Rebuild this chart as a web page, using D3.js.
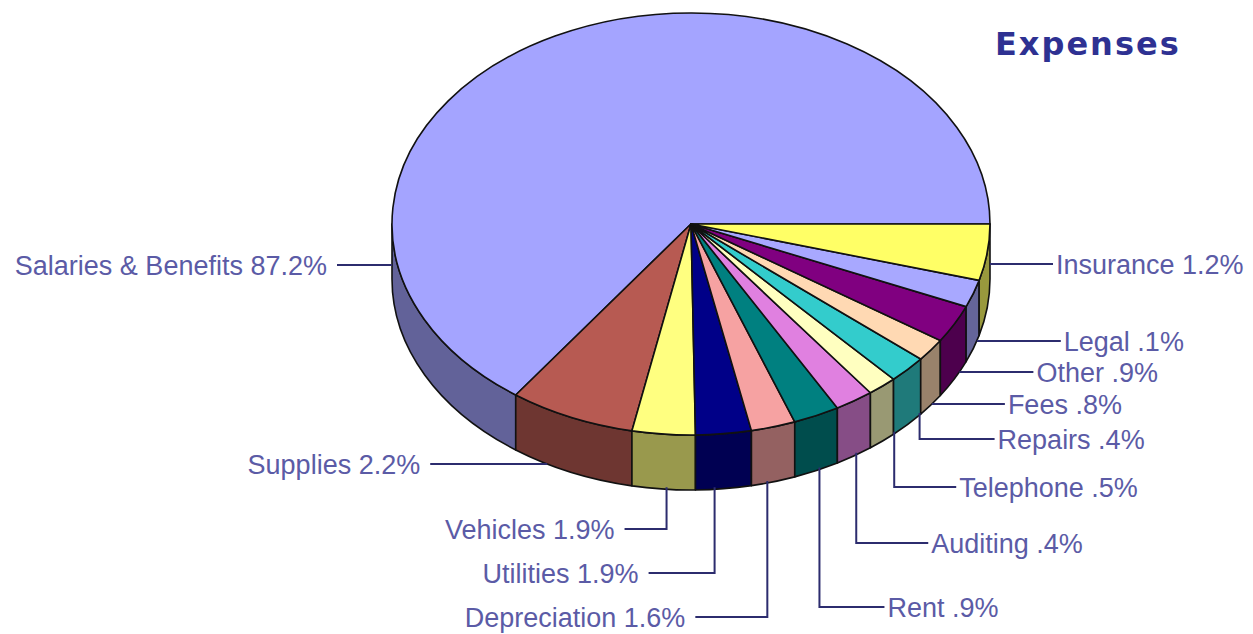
<!DOCTYPE html>
<html>
<head>
<meta charset="utf-8">
<script src="https://cdn.jsdelivr.net/npm/d3@7"></script>
<style>
  body { margin: 0; background: #fff; }
</style>
</head>
<body>
<div id="chart"></div>
<script>
const categories = ["Salaries & Benefits", "Supplies", "Vehicles", "Utilities", "Depreciation", "Rent",
  "Auditing", "Telephone", "Repairs", "Fees", "Other", "Legal", "Insurance"];
const percentLabels = ["87.2%", "2.2%", "1.9%", "1.9%", "1.6%", ".9%", ".4%", ".5%", ".4%", ".8%", ".9%", ".1%", "1.2%"];
// share of the circle each slice takes in the drawing itself (the picture does not follow the labels)
const drawnShares = [65.0, 6.8, 3.4, 3.0, 2.4, 2.5, 2.1, 1.6, 2.1, 1.75, 2.9, 2.1, 4.3];
const topColors = ["#a4a4ff", "#b75a52", "#ffff80", "#000088", "#f6a2a2", "#008080",
  "#e080e0", "#ffffc0", "#33cccc", "#ffd9b3", "#800080", "#a8a8ff", "#ffff66"];

const W = 1253, H = 634;
const cx = 691, cy = 224, rx = 299, ry = 211, depth = 55;

// label layout: leader type, side, y of the horizontal run, its length, nudge of the drop line
const labelLayout = [
  { kind: "h", dir: -1, lineY: 265, len: 55 },
  { kind: "h", dir: -1, lineY: 464, len: 117 },
  { kind: "v", dir: -1, lineY: 529, len: 42, nudge: 3 },
  { kind: "v", dir: -1, lineY: 573, len: 66, nudge: -9 },
  { kind: "v", dir: -1, lineY: 617, len: 72, nudge: -6 },
  { kind: "v", dir: 1, lineY: 607, len: 65, nudge: 3 },
  { kind: "v", dir: 1, lineY: 543, len: 72, nudge: 2 },
  { kind: "v", dir: 1, lineY: 487, len: 62, nudge: 12 },
  { kind: "v", dir: 1, lineY: 439, len: 75, nudge: 12 },
  { kind: "h", dir: 1, lineY: 404, len: 73 },
  { kind: "h", dir: 1, lineY: 372, len: 74 },
  { kind: "h", dir: 1, lineY: 341, len: 84 },
  { kind: "h", dir: 1, lineY: 264, len: 63 }
];

const data = categories.map((c, i) => ({
  name: c, label: percentLabels[i], share: drawnShares[i], color: topColors[i], layout: labelLayout[i]
}));

const svg = d3.select("#chart").append("svg")
  .attr("width", W).attr("height", H)
  .style("font-family", "'Liberation Sans', Arial, sans-serif");

// slices counterclockwise from 3 o'clock, Salaries first
const pie = d3.pie().sort(null).value(d => d.share).startAngle(0).endAngle(-2 * Math.PI);
const arcs = pie(data).map(a => {
  let t0 = Math.min(a.startAngle, a.endAngle) + 2 * Math.PI;
  let t1 = Math.max(a.startAngle, a.endAngle) + 2 * Math.PI;
  if (t0 >= 2 * Math.PI - 1e-9) { t0 -= 2 * Math.PI; t1 -= 2 * Math.PI; }
  return { d: a.data, t0, t1 };
});

const px = t => cx + rx * Math.cos(t);
const py = t => cy + ry * Math.sin(t);

function topPath(t0, t1) {
  const large = (t1 - t0) > Math.PI ? 1 : 0;
  return `M${cx},${cy}L${px(t0)},${py(t0)}A${rx},${ry} 0 ${large} 1 ${px(t1)},${py(t1)}Z`;
}
function sidePath(t0, t1) {
  return `M${px(t0)},${py(t0)}A${rx},${ry} 0 0 1 ${px(t1)},${py(t1)}` +
    `L${px(t1)},${py(t1) + depth}A${rx},${ry} 0 0 0 ${px(t0)},${py(t0) + depth}Z`;
}
const shade = c => { const r = d3.rgb(c); return d3.rgb(r.r * 0.6, r.g * 0.6, r.b * 0.6); };

// outer walls (front half only)
const sides = svg.append("g");
arcs.forEach(a => {
  const s = Math.max(a.t0, 0), e = Math.min(a.t1, Math.PI);
  if (e > s) {
    sides.append("path").attr("d", sidePath(s, e))
      .attr("fill", shade(a.d.color))
      .attr("stroke", "#111").attr("stroke-width", 1.6).attr("stroke-linejoin", "round");
  }
});

const tops = svg.append("g");
arcs.forEach(a => {
  tops.append("path").attr("d", topPath(a.t0, a.t1))
    .attr("fill", a.d.color)
    .attr("stroke", "#111").attr("stroke-width", 1.6).attr("stroke-linejoin", "round");
});

// x of the visible pie outline at a given y
function outlineX(y, dir) {
  let yy = y;
  if (y > cy + depth) yy = y - depth;
  else if (y >= cy) return cx + dir * rx;
  const k = Math.min(1, Math.abs(yy - cy) / ry);
  return cx + dir * rx * Math.sqrt(1 - k * k);
}
// bottom of the wall at a given x
const wallBottom = x => cy + depth + ry * Math.sqrt(Math.max(0, 1 - ((x - cx) / rx) ** 2));

const leaders = svg.append("g");
const textColor = "#5b5ba6", lineColor = "#2c2c6e";
arcs.forEach(a => {
  const L = a.d.layout;
  const mid = (a.t0 + a.t1) / 2;
  const dir = L.dir;
  let pts;
  if (L.kind === "v") {
    const ax = px(mid) + (L.nudge || 0);
    pts = [[ax, wallBottom(ax) - 2], [ax, L.lineY], [ax + dir * L.len, L.lineY]];
  } else {
    const ax = outlineX(L.lineY, dir);
    pts = [[ax, L.lineY], [ax + dir * L.len, L.lineY]];
  }
  leaders.append("path")
    .attr("d", d3.line()(pts))
    .attr("fill", "none").attr("stroke", lineColor).attr("stroke-width", 2);
  const end = pts[pts.length - 1];
  leaders.append("text")
    .attr("x", end[0] + (dir < 0 ? -10 : 3))
    .attr("y", L.lineY + 9.5)
    .attr("text-anchor", dir < 0 ? "end" : "start")
    .attr("fill", textColor)
    .style("font-size", "27px")
    .text(`${a.d.name} ${a.d.label}`);
});

svg.append("text")
  .attr("x", 995).attr("y", 55)
  .attr("fill", "#2e3192")
  .style("font-family", "'DejaVu Sans', Verdana, sans-serif")
  .style("font-weight", "bold")
  .style("font-size", "32px")
  .style("letter-spacing", "2px")
  .text("Expenses");
</script>
</body>
</html>
